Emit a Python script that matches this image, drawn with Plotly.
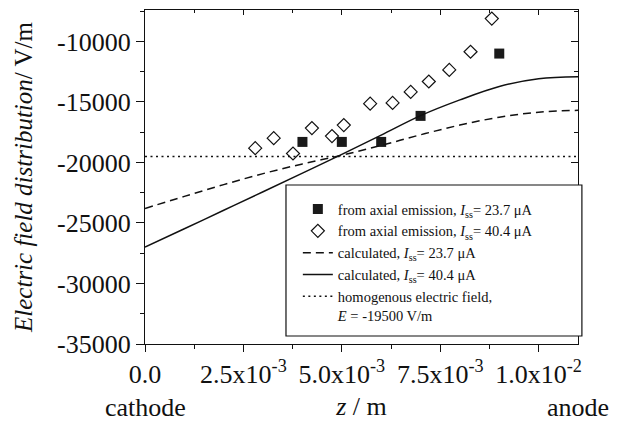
import plotly.graph_objects as go
import numpy as np

# ---------------- data ----------------
z_sq = [4.0e-3, 5.0e-3, 6.0e-3, 7.0e-3, 9.0e-3]
E_sq = [-18300, -18300, -18300, -16150, -11000]

z_dia = [2.80e-3, 3.27e-3, 3.76e-3, 4.24e-3, 4.75e-3, 5.05e-3, 5.72e-3,
         6.29e-3, 6.75e-3, 7.21e-3, 7.73e-3, 8.27e-3, 8.81e-3]
E_dia = [-18820, -17990, -19260, -17160, -17820, -16910, -15140,
         -15080, -14170, -13310, -12350, -10850, -8110]

z_calc = [0.0, 1e-3, 2e-3, 3e-3, 4e-3, 5e-3, 6e-3, 7e-3, 8e-3, 9e-3, 10e-3, 11e-3]
E_calc_237 = [-23800, -22800, -21830, -20920, -20120, -19400, -18590,
              -17710, -16910, -16260, -15840, -15690]
E_calc_404 = [-27000, -25480, -23950, -22420, -20880, -19330, -17740,
              -16130, -14830, -13720, -13080, -12920]

z_hom = [0.0, 0.011]
E_hom = [-19500, -19500]

x_tickvals = [0.0, 2.5e-3, 5.0e-3, 7.5e-3, 1.0e-2]
x_ticktext = ["0.0", "2.5x10<sup>-3</sup>", "5.0x10<sup>-3</sup>",
              "7.5x10<sup>-3</sup>", "1.0x10<sup>-2</sup>"]
y_tickvals = [-35000, -30000, -25000, -20000, -15000, -10000]
y_ticktext = ["-35000", "-30000", "-25000", "-20000", "-15000", "-10000"]

x_range = [0.0, 0.011]
y_range = [-35000, -7400]

FONT = "Liberation Serif, Times New Roman, serif"
BLACK = "#111111"

fig = go.Figure()

fig.add_trace(go.Scatter(
    x=z_sq, y=E_sq, mode="markers",
    name="from axial emission, <i>I</i><sub>ss</sub>= 23.7 μA",
    marker=dict(symbol="square", size=10, color="#1a1a1a",
                line=dict(width=0))))
fig.add_trace(go.Scatter(
    x=z_dia, y=E_dia, mode="markers",
    name="from axial emission, <i>I</i><sub>ss</sub>= 40.4 μA",
    marker=dict(symbol="diamond-open", size=10, color=BLACK,
                line=dict(width=1.2, color=BLACK))))
fig.add_trace(go.Scatter(
    x=z_calc, y=E_calc_237, mode="lines",
    name="calculated, <i>I</i><sub>ss</sub>= 23.7 μA",
    line=dict(color=BLACK, width=1.5, dash="8px,5px", shape="spline")))
fig.add_trace(go.Scatter(
    x=z_calc, y=E_calc_404, mode="lines",
    name="calculated, <i>I</i><sub>ss</sub>= 40.4 μA",
    line=dict(color=BLACK, width=1.5, shape="spline")))
fig.add_trace(go.Scatter(
    x=z_hom, y=E_hom, mode="lines",
    name="homogenous electric field,<br><i>E</i> = -19500 V/m",
    line=dict(color=BLACK, width=1.5, dash="2px,3.5px")))
# invisible trace to activate the mirror (top/right) axes
fig.add_trace(go.Scatter(
    x=z_hom, y=E_hom, mode="lines", xaxis="x2", yaxis="y2",
    showlegend=False, hoverinfo="skip", opacity=0,
    line=dict(color="rgba(0,0,0,0)")))

minor_x = np.arange(1.25e-3, 0.011, 2.5e-3).tolist()
minor_y = np.arange(-32500, -7400, 5000).tolist()

tickfont = dict(family=FONT, size=26, color=BLACK)

# the page body adds an 8px offset, so the figure is sized to fit inside it
fig.update_layout(
    width=624, height=414,
    margin=dict(l=137, r=54, t=2, b=78),
    paper_bgcolor="white", plot_bgcolor="white",
    font=dict(family=FONT, color=BLACK),
    showlegend=True,
    legend=dict(
        x=0.353, y=0.452, xanchor="left", yanchor="top",
        bgcolor="rgba(0,0,0,0)", borderwidth=0,
        font=dict(family=FONT, size=14.5, color=BLACK),
        valign="top", tracegroupgap=0, itemwidth=30),
    shapes=[dict(type="rect", xref="paper", yref="paper",
                 x0=0.3256, x1=1.009, y0=0.024, y1=0.476,
                 line=dict(color=BLACK, width=1.2), fillcolor="white",
                 layer="above")],
    xaxis=dict(
        range=x_range, showgrid=False, zeroline=False, automargin=False,
        showline=True, linecolor=BLACK, linewidth=1.3, mirror=True,
        tickmode="array", tickvals=x_tickvals, ticktext=x_ticktext,
        ticks="outside", ticklen=7, tickwidth=1.2, tickcolor=BLACK,
        tickfont=tickfont,
        minor=dict(tickvals=minor_x, ticks="outside", ticklen=4,
                   tickwidth=1.2, tickcolor=BLACK, showgrid=False),
        title=dict(text="<i>z</i> / m", font=dict(family=FONT, size=26, color=BLACK),
                   standoff=8)),
    yaxis=dict(
        range=y_range, showgrid=False, zeroline=False, automargin=False,
        showline=True, linecolor=BLACK, linewidth=1.3, mirror=True,
        tickmode="array", tickvals=y_tickvals, ticktext=y_ticktext,
        ticks="outside", ticklen=8, tickwidth=1.2, tickcolor=BLACK,
        tickfont=tickfont,
        minor=dict(tickvals=minor_y, ticks="outside", ticklen=4,
                   tickwidth=1.2, tickcolor=BLACK, showgrid=False),
        title=dict(text="<i>Electric field distribution</i>/ V/m",
                   font=dict(family=FONT, size=25, color=BLACK),
                   standoff=17)),
    xaxis2=dict(
        overlaying="x", side="top", anchor="y", range=x_range,
        showgrid=False, zeroline=False, showline=False, automargin=False,
        tickmode="array", tickvals=x_tickvals, showticklabels=False,
        ticks="inside", ticklen=5, tickwidth=1.2, tickcolor=BLACK,
        minor=dict(tickvals=minor_x, ticks="inside", ticklen=3,
                   tickwidth=1.2, tickcolor=BLACK)),
    yaxis2=dict(
        overlaying="y", side="right", anchor="x", range=y_range,
        showgrid=False, zeroline=False, showline=False, automargin=False,
        tickmode="array", tickvals=y_tickvals, showticklabels=False,
        ticks="inside", ticklen=7, tickwidth=1.2, tickcolor=BLACK,
        minor=dict(tickvals=minor_y, ticks="inside", ticklen=4,
                   tickwidth=1.2, tickcolor=BLACK)),
    annotations=[
        dict(text="cathode", x=x_range[0], xref="x", y=-0.19, yref="paper",
             xanchor="center", yanchor="middle", showarrow=False,
             font=dict(family=FONT, size=26, color=BLACK)),
        dict(text="anode", x=x_range[1], xref="x", y=-0.19, yref="paper",
             xanchor="center", yanchor="middle", showarrow=False,
             font=dict(family=FONT, size=26, color=BLACK)),
    ],
)

fig.write_html("out.html")
